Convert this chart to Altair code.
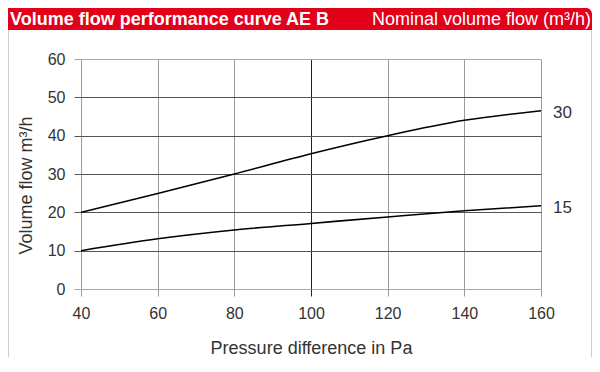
import altair as alt
import pandas as pd

# Data
pressure = [40, 60, 80, 100, 120, 140, 160]
flow_30 = [20.0, 24.9, 30.0, 35.3, 40.0, 44.0, 46.5]
flow_15 = [10.0, 13.1, 15.4, 17.1, 18.8, 20.4, 21.7]
series_names = ["30", "15"]

x_ticks = [40, 60, 80, 100, 120, 140, 160]
y_ticks = [0, 10, 20, 30, 40, 50, 60]

header_left = "Volume flow performance curve AE B"
header_right = "Nominal volume flow (m³/h)"
x_title = "Pressure difference in Pa"
y_title = "Volume flow m³/h"

rows = []
for name, vals in zip(series_names, [flow_30, flow_15]):
    for p, v in zip(pressure, vals):
        rows.append({"series": name, "pressure": p, "flow": v})
df = pd.DataFrame(rows)
end_df = df[df["pressure"] == max(pressure)]

FONT = "Liberation Sans"
W, H = 460, 230
PL, PT, PR, PB = 73, 51, 51, 68
RED = "#e2001a"

x_color = alt.condition(alt.datum.value == 100, alt.value("#222222"), alt.value("#9a9a9a"))
y_color = alt.condition(
    (alt.datum.value == 0) | (alt.datum.value == 60), alt.value("#a8a8a8"), alt.value("#555555")
)

x_enc = alt.X(
    "pressure:Q",
    scale=alt.Scale(domain=[40, 160], nice=False, zero=False),
    axis=alt.Axis(
        values=x_ticks, tickCount=7, title=x_title, domain=False, grid=True,
        gridColor=x_color, tickColor=x_color,
        tickSize=7, labelPadding=9, titlePadding=18,
        labelFlush=False, labelOverlap=False,
    ),
)
y_enc = alt.Y(
    "flow:Q",
    scale=alt.Scale(domain=[0, 60], nice=False),
    axis=alt.Axis(
        values=y_ticks, tickCount=7, title=y_title, domain=False, grid=True,
        gridColor=y_color, tickColor=y_color,
        tickSize=7, labelPadding=9, titlePadding=12, titleY=126,
        labelFlush=False, labelOverlap=False,
    ),
)

lines = alt.Chart(df).mark_line(color="black", strokeWidth=1.6, interpolate="monotone").encode(
    x=x_enc, y=y_enc, detail="series:N"
)

end_labels = alt.Chart(end_df).mark_text(
    align="left", baseline="middle", dx=12, dy=2, fontSize=17, font=FONT, color="#333333"
).encode(x=x_enc, y=y_enc, text="series:N")

header_df = pd.DataFrame({"left": [header_left], "right": [header_right]})
band = alt.Chart(header_df).mark_rect(color=RED, cornerRadiusTopRight=6).encode(
    x=alt.value(-PL), x2=alt.value(W + PR), y=alt.value(-PT), y2=alt.value(-PT + 22)
)
h_left = alt.Chart(header_df).mark_text(
    align="left", baseline="middle", fontSize=18, fontWeight="bold", font=FONT, color="white"
).encode(x=alt.value(-PL + 2), y=alt.value(-PT + 11.5), text="left:N")
h_right = alt.Chart(header_df).mark_text(
    align="right", baseline="middle", fontSize=18, font=FONT, color="white"
).encode(x=alt.value(W + PR - 1), y=alt.value(-PT + 11.5), text="right:N")

border_l = alt.Chart(header_df).mark_rule(color="#cccccc", strokeWidth=1).encode(
    x=alt.value(-PL + 0.5), y=alt.value(-PT + 22), y2=alt.value(H + PB)
)
border_r = alt.Chart(header_df).mark_rule(color="#cccccc", strokeWidth=1).encode(
    x=alt.value(W + PR - 0.5), y=alt.value(-PT + 22), y2=alt.value(H + PB)
)

chart = alt.layer(lines, end_labels, band, h_left, h_right, border_l, border_r).properties(
    width=W, height=H,
    autosize=alt.AutoSizeParams(type="none"),
    padding={"left": PL, "top": PT, "right": PR, "bottom": PB},
).configure_view(stroke=None).configure_axis(
    labelFont=FONT, titleFont=FONT, labelFontSize=16, titleFontSize=18,
    labelColor="#333333", titleColor="#333333", titleFontWeight="normal",
)

chart.save("out.html", embed_options={"renderer": "svg", "actions": False})
